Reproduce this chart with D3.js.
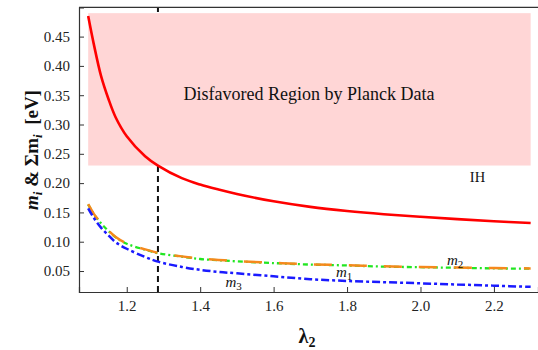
<!DOCTYPE html>
<html>
<head>
<meta charset="utf-8">
<script src="https://cdn.jsdelivr.net/npm/d3@7"></script>
<style>
  html, body { margin: 0; padding: 0; background: #fff; }
  svg { display: block; }
  svg text { font-family: "Liberation Serif", "Times New Roman", Times, "DejaVu Serif", serif !important; }
</style>
</head>
<body>
<svg id="chart" width="538" height="350"></svg>
<script>
// ---- data ----
const lambda2 = [1.095, 1.11, 1.13, 1.15, 1.17, 1.2, 1.25, 1.285, 1.35, 1.4, 1.45, 1.5, 1.6, 1.7, 1.8, 1.9, 2.0, 2.1, 2.2, 2.3];
const sumIH   = [0.485, 0.438, 0.383, 0.344, 0.312, 0.280, 0.246, 0.230, 0.2085, 0.1975, 0.189, 0.1815, 0.169, 0.1595, 0.1525, 0.147, 0.1425, 0.1385, 0.135, 0.132];
const m2vals  = [0.164, 0.148, 0.132, 0.119, 0.108, 0.097, 0.087, 0.081, 0.075, 0.071, 0.069, 0.067, 0.064, 0.0614, 0.060, 0.058, 0.057, 0.056, 0.055, 0.0545];
const m1vals  = [0.1635, 0.1475, 0.1315, 0.1185, 0.1075, 0.0965, 0.0865, 0.0805, 0.0745, 0.0705, 0.0685, 0.0665, 0.0635, 0.061, 0.0595, 0.0575, 0.0565, 0.0555, 0.0545, 0.054];
const m3vals  = [0.157, 0.141, 0.124, 0.111, 0.099, 0.088, 0.074, 0.066, 0.057, 0.052, 0.0485, 0.046, 0.041, 0.036, 0.033, 0.031, 0.029, 0.027, 0.025, 0.023];
const xTicks = [1.2, 1.4, 1.6, 1.8, 2.0, 2.2];
const yTicks = [0.05, 0.10, 0.15, 0.20, 0.25, 0.30, 0.35, 0.40, 0.45];
const planckBand = [0.23, 0.49];      // disfavored Σm range
const planckLambda = [1.095, 2.30];   // x extent of band
const crossLambda = 1.285;            // where ΣIH meets 0.23 eV
const xDomain = [1.07, 2.32];
const yDomain = [0.0142, 0.5];

// ---- layout ----
const svg = d3.select("#chart");
const pLeft = 79, pRight = 538, pTop = 7.3, pBottom = 292;
const x = d3.scaleLinear().domain(xDomain).range([pLeft, pRight]);
const y = d3.scaleLinear().domain(yDomain).range([pBottom, pTop]);

// vertical dashed marker (drawn under the band)
svg.append("line")
  .attr("x1", x(crossLambda)).attr("x2", x(crossLambda))
  .attr("y1", y(yDomain[0])).attr("y2", y(yDomain[1]))
  .attr("stroke", "#111").attr("stroke-width", 2)
  .attr("stroke-dasharray", "6,4");

// Planck band
svg.append("rect")
  .attr("x", x(planckLambda[0])).attr("width", x(planckLambda[1]) - x(planckLambda[0]))
  .attr("y", y(planckBand[1])).attr("height", y(planckBand[0]) - y(planckBand[1]))
  .attr("fill", "#ffd6d6");

// curves
const line = vals => d3.line().x((d, i) => x(lambda2[i])).y(d => y(d)).curve(d3.curveCatmullRom.alpha(0.5))(vals);

svg.append("path").attr("d", line(m1vals)).attr("fill", "none")
  .attr("stroke", "#22e622").attr("stroke-width", 2.3).attr("stroke-dasharray", "5,3,2,3");
svg.append("path").attr("d", line(m2vals)).attr("fill", "none")
  .attr("stroke", "#f5891c").attr("stroke-width", 2.5).attr("stroke-dasharray", "18,17");
svg.append("path").attr("d", line(m3vals)).attr("fill", "none")
  .attr("stroke", "#1a1aff").attr("stroke-width", 2.5).attr("stroke-dasharray", "8,3,3,3");
svg.append("path").attr("d", line(sumIH)).attr("fill", "none")
  .attr("stroke", "#ff0000").attr("stroke-width", 2.6);

// axes
const axisColor = "#333";
const xAxis = d3.axisBottom(x).tickValues(xTicks).tickSize(-5).tickPadding(8).tickFormat(d3.format(".1f"));
const gx = svg.append("g").attr("transform", `translate(0,${pBottom})`).call(xAxis);
const yAxis = d3.axisLeft(y).tickValues(yTicks).tickSize(-5).tickPadding(9).tickFormat(d3.format(".2f"));
const gy = svg.append("g").attr("transform", `translate(${pLeft},0)`).call(yAxis);
[gx, gy].forEach(g => {
  g.select(".domain").attr("stroke", axisColor).attr("stroke-width", 1.2);
  g.selectAll(".tick line").attr("stroke", axisColor).attr("stroke-width", 1);
  g.selectAll(".tick text").attr("fill", "#222").attr("font-size", 15);
});
// top frame line
svg.append("line").attr("x1", pLeft).attr("x2", pRight).attr("y1", pTop).attr("y2", pTop)
  .attr("stroke", axisColor).attr("stroke-width", 1.2);

// annotations
svg.append("text").attr("x", 309).attr("y", 100).attr("text-anchor", "middle")
  .attr("font-size", 18).attr("fill", "#111").text("Disfavored Region by Planck Data");
svg.append("text").attr("x", 477.5).attr("y", 182).attr("text-anchor", "middle")
  .attr("font-size", 14.5).attr("fill", "#111").text("IH");

function mLabel(px, py, sub) {
  const t = svg.append("text").attr("x", px).attr("y", py).attr("fill", "#111")
    .attr("font-style", "italic").attr("font-size", 15);
  t.append("tspan").text("m");
  t.append("tspan").attr("dy", 3).attr("font-size", 11).attr("font-style", "normal").text(sub);
}
mLabel(447, 265, "2");
mLabel(336, 277, "1");
mLabel(225.5, 286.5, "3");

// axis titles
const yl = svg.append("text").attr("transform", "translate(38,150) rotate(-90)")
  .attr("text-anchor", "middle").attr("font-weight", "bold").attr("font-size", 19).attr("fill", "#111");
yl.append("tspan").attr("font-style", "italic").text("m");
yl.append("tspan").attr("font-style", "italic").attr("font-size", 13).attr("dy", 4).text("i");
yl.append("tspan").attr("dy", -4).text(" & Σm");
yl.append("tspan").attr("font-style", "italic").attr("font-size", 13).attr("dy", 4).text("i");
yl.append("tspan").attr("dy", -4).text("\u00a0 [eV]");

const xl = svg.append("text").attr("x", 307).attr("y", 343).attr("text-anchor", "middle")
  .attr("font-weight", "bold").attr("font-size", 20).attr("fill", "#111");
xl.append("tspan").text("λ");
xl.append("tspan").attr("font-size", 14).attr("dy", 4).text("2");
</script>
</body>
</html>
